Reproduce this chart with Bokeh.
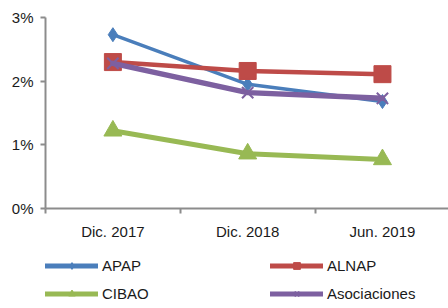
from bokeh.plotting import figure
from bokeh.layouts import column
from bokeh.models import FixedTicker, Range1d, Legend, LegendItem
from bokeh.embed import file_html
from bokeh.resources import INLINE

categories = ["Dic. 2017", "Dic. 2018", "Jun. 2019"]
apap = [2.73, 1.95, 1.68]
alnap = [2.30, 2.16, 2.11]
cibao = [1.22, 0.86, 0.77]
asociaciones = [2.28, 1.82, 1.73]
y_ticks = [0, 1, 2, 3]
y_tick_labels = ["0%", "1%", "2%", "3%"]

xs = [i + 0.5 for i in range(len(categories))]

p = figure(width=448, height=245, output_backend="svg", toolbar_location=None,
           x_range=Range1d(0, 2.99), y_range=Range1d(0, 3))
p.min_border_left = 45
p.min_border_right = 0
p.min_border_top = 17
p.min_border_bottom = 37
p.outline_line_color = None
p.xgrid.visible = False
p.ygrid.visible = False

font = "Liberation Sans"
axis_color = "#8c8c8c"

p.xaxis.ticker = FixedTicker(ticks=xs, minor_ticks=[0, 1, 2])
p.xaxis.major_label_overrides = {x: c for x, c in zip(xs, categories)}
p.xaxis.major_tick_line_color = None
p.xaxis.major_tick_out = 0
p.xaxis.minor_tick_out = 5
p.xaxis.minor_tick_in = 0
p.xaxis.minor_tick_line_color = axis_color
p.xaxis.minor_tick_line_width = 2
p.xaxis.axis_line_color = axis_color
p.xaxis.axis_line_width = 2
p.xaxis.major_label_standoff = 9
p.xaxis.major_label_text_font = font
p.xaxis.major_label_text_font_size = "15px"
p.xaxis.major_label_text_color = "#1a1a1a"

p.yaxis.ticker = FixedTicker(ticks=y_ticks, minor_ticks=[])
p.yaxis.major_label_overrides = {t: l for t, l in zip(y_ticks, y_tick_labels)}
p.yaxis.major_tick_out = 5
p.yaxis.major_tick_in = 0
p.yaxis.major_tick_line_color = axis_color
p.yaxis.major_tick_line_width = 2
p.yaxis.axis_line_color = axis_color
p.yaxis.axis_line_width = 2
p.yaxis.major_label_standoff = 7
p.yaxis.major_label_text_font = font
p.yaxis.major_label_text_font_size = "15px"
p.yaxis.major_label_text_color = "#1a1a1a"

# legend-only figure below the chart
pl = figure(width=448, height=63, output_backend="svg", toolbar_location=None,
            x_range=Range1d(10, 11), y_range=Range1d(10, 11),
            x_axis_location=None, y_axis_location=None)
pl.min_border = 0
pl.outline_line_color = None
pl.xgrid.visible = False
pl.ygrid.visible = False

series = [
    ("APAP", apap, "#4a7ebb", 3.5, "diamond", 14),
    ("ALNAP", alnap, "#be4b48", 4.5, "square", 17),
    ("CIBAO", cibao, "#98b954", 5, "triangle", 18),
    ("Asociaciones", asociaciones, "#7d60a0", 5.5, "x", 16),
]

items = []
for name, vals, color, lw, marker, size in series:
    for fig, w in ((p, lw), (pl, 5)):
        r1 = fig.line(xs, vals, line_color=color, line_width=w, line_join="round", line_cap="round")
        if marker == "x":
            r2 = fig.scatter(xs, vals, marker=marker, size=size, line_color=color, line_width=2)
        else:
            r2 = fig.scatter(xs, vals, marker=marker, size=size, fill_color=color, line_color=color)
    items.append(LegendItem(label=name, renderers=[r1, r2]))

legend = Legend(items=items, ncols=2, location=(0, 1), orientation="horizontal")
legend.border_line_color = None
legend.background_fill_alpha = 0
legend.glyph_width = 53
legend.glyph_height = 17
legend.label_standoff = 4
legend.label_width = 168
legend.spacing = 0
legend.padding = 0
legend.margin = 0
legend.label_text_font = font
legend.label_text_font_size = "15px"
legend.label_text_color = "#1a1a1a"
legend.label_height = 28
pl.add_layout(legend, "center")

layout = column(p, pl, spacing=0)
open("out.html", "w").write(file_html(layout, INLINE))
